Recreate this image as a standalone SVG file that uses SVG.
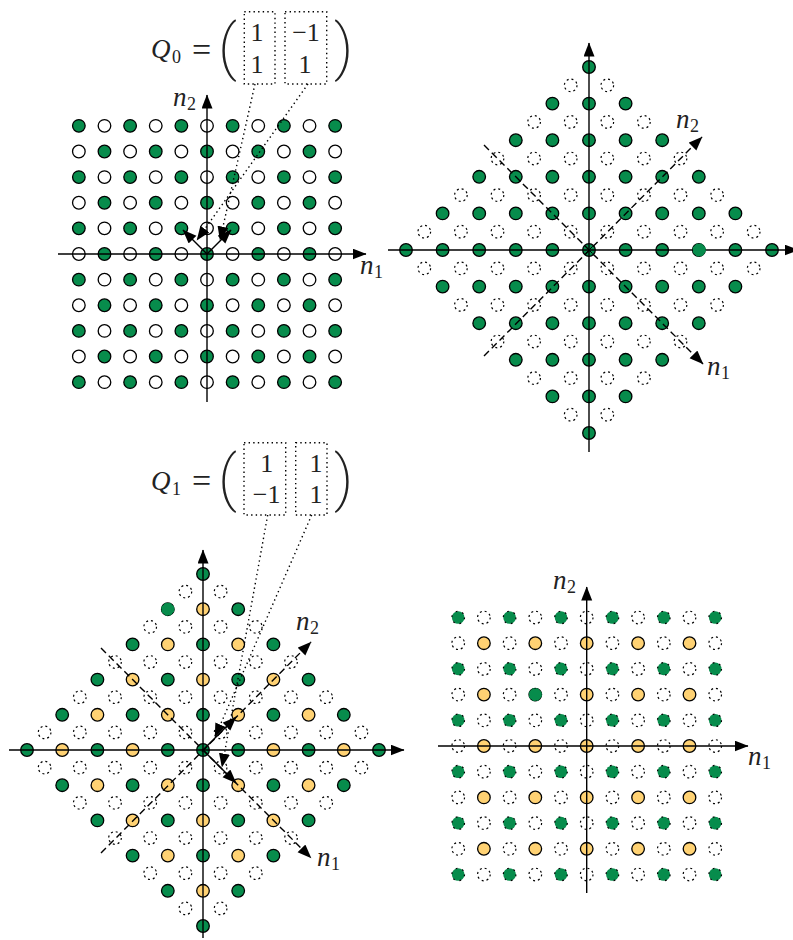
<svg xmlns="http://www.w3.org/2000/svg" width="793" height="940" viewBox="0 0 793 940">
<style>
text{font-family:"Liberation Serif","Times New Roman",serif;fill:#222}
.n{font-style:italic;font-size:27px}
.s{font-size:18px}
.m{font-size:26px;text-anchor:middle}
.e{font-size:34px}
.p{font-family:Roboto,"Liberation Sans",sans-serif;font-weight:200;font-size:62px}
.g{fill:#078c4c;stroke:#000;stroke-width:1.3}
.o{fill:#ffd273;stroke:#000;stroke-width:1.3}
.w{fill:#fff;stroke:#000;stroke-width:1.3}
.d{fill:none;stroke:#000;stroke-width:1.2;stroke-dasharray:2 2.95}
.h{fill:#078c4c;stroke:#000;stroke-width:1.2;stroke-dasharray:1.8 4.8}
.x{fill:#078c4c;stroke:#078c4c;stroke-width:1;stroke-dasharray:3 1.9}
.ax{fill:none;stroke:#000;stroke-width:1.4;marker-end:url(#arr)}
.da{stroke-dasharray:7 4}
.do{fill:none;stroke:#000;stroke-width:1.4;stroke-dasharray:1.4 3.2}
</style>
<defs>
<marker id="arr" markerUnits="userSpaceOnUse" markerWidth="15" markerHeight="12" refX="13.5" refY="5.5" orient="auto"><path d="M0,0L14,5.5L0,11Z" fill="#000"/></marker>
<circle id="cg" class="g" r="6.3"/><circle id="co" class="o" r="6.3"/><circle id="cw" class="w" r="6.3"/><circle id="cd" class="d" r="6.3"/><circle id="ch" class="h" r="6.3"/>

<g id="A1"><use href="#cg" x="-128.15"/><use href="#cw" x="-102.52"/><use href="#cg" x="-76.89"/><use href="#cw" x="-51.26"/><use href="#cg" x="-25.63"/><use href="#cw"/><use href="#cg" x="25.63"/><use href="#cw" x="51.26"/><use href="#cg" x="76.89"/><use href="#cw" x="102.52"/><use href="#cg" x="128.15"/></g>
<g id="A2"><use href="#cw" x="-128.15"/><use href="#cg" x="-102.52"/><use href="#cw" x="-76.89"/><use href="#cg" x="-51.26"/><use href="#cw" x="-25.63"/><use href="#cg"/><use href="#cw" x="25.63"/><use href="#cg" x="51.26"/><use href="#cw" x="76.89"/><use href="#cg" x="102.52"/><use href="#cw" x="128.15"/></g>

<g id="D1"><use href="#ch" x="-128.5"/><use href="#cd" x="-102.8"/><use href="#ch" x="-77.1"/><use href="#cd" x="-51.4"/><use href="#ch" x="-25.7"/><use href="#cd"/><use href="#ch" x="25.7"/><use href="#cd" x="51.4"/><use href="#ch" x="77.1"/><use href="#cd" x="102.8"/><use href="#ch" x="128.5"/></g>
<g id="D2"><use href="#cd" x="-128.5"/><use href="#co" x="-102.8"/><use href="#cd" x="-77.1"/><use href="#co" x="-51.4"/><use href="#cd" x="-25.7"/><use href="#co"/><use href="#cd" x="25.7"/><use href="#co" x="51.4"/><use href="#cd" x="77.1"/><use href="#co" x="102.8"/><use href="#cd" x="128.5"/></g>

<g id="b0"><use href="#cg"/></g>
<g id="b1"><use href="#b0"/><use href="#cg" x="-36.6"/><use href="#cg" x="36.6"/></g>
<g id="b2"><use href="#b1"/><use href="#cg" x="-73.2"/><use href="#cg" x="73.2"/></g>
<g id="b3"><use href="#b2"/><use href="#cg" x="-109.8"/><use href="#cg" x="109.8"/></g>
<g id="b4"><use href="#b3"/><use href="#cg" x="-146.4"/><use href="#cg" x="146.4"/></g>
<g id="b5"><use href="#b4"/><use href="#cg" x="-183"/><use href="#cg" x="183"/></g>
<g id="e1"><use href="#cd" x="-18.3"/><use href="#cd" x="18.3"/></g>
<g id="e2"><use href="#e1"/><use href="#cd" x="-54.9"/><use href="#cd" x="54.9"/></g>
<g id="e3"><use href="#e2"/><use href="#cd" x="-91.5"/><use href="#cd" x="91.5"/></g>
<g id="e4"><use href="#e3"/><use href="#cd" x="-128.1"/><use href="#cd" x="128.1"/></g>
<g id="e5"><use href="#e4"/><use href="#cd" x="-164.7"/><use href="#cd" x="164.7"/></g>

<g id="f1"><use href="#cd" x="-17.6"/><use href="#cd" x="17.6"/></g>
<g id="f2"><use href="#f1"/><use href="#cd" x="-52.8"/><use href="#cd" x="52.8"/></g>
<g id="f3"><use href="#f2"/><use href="#cd" x="-88"/><use href="#cd" x="88"/></g>
<g id="f4"><use href="#f3"/><use href="#cd" x="-123.2"/><use href="#cd" x="123.2"/></g>
<g id="f5"><use href="#f4"/><use href="#cd" x="-158.4"/><use href="#cd" x="158.4"/></g>
<g id="g1"><use href="#cg" x="-35.2"/><use href="#cg" x="35.2"/></g>
<g id="g2"><use href="#cg" x="-70.4"/><use href="#cg" x="70.4"/></g>
<g id="g3"><use href="#cg" x="-105.6"/><use href="#cg" x="105.6"/></g>
<g id="g4"><use href="#cg" x="-140.8"/><use href="#cg" x="140.8"/></g>
<g id="g5"><use href="#cg" x="-176"/><use href="#cg" x="176"/></g>
<g id="o1"><use href="#co" x="-35.2"/><use href="#co" x="35.2"/></g>
<g id="o2"><use href="#co" x="-70.4"/><use href="#co" x="70.4"/></g>
<g id="o3"><use href="#co" x="-105.6"/><use href="#co" x="105.6"/></g>
<g id="o4"><use href="#co" x="-140.8"/><use href="#co" x="140.8"/></g>
<g id="c0"><use href="#cg"/><use href="#g1"/><use href="#o2"/><use href="#g3"/><use href="#o4"/><use href="#g5"/></g>
<g id="c1"><use href="#cg"/><use href="#o1"/><use href="#g2"/><use href="#o3"/><use href="#g4"/></g>
<g id="c2"><use href="#co"/><use href="#g1"/><use href="#o2"/><use href="#g3"/></g>
<g id="c3"><use href="#cg"/><use href="#o1"/><use href="#g2"/></g>
<g id="c4"><use href="#co"/><use href="#g1"/></g>
</defs>

<g id="panel-a-points">
<use href="#A1" x="207" y="125.85"/><use href="#A2" x="207" y="151.48"/><use href="#A1" x="207" y="177.11"/><use href="#A2" x="207" y="202.74"/><use href="#A1" x="207" y="228.37"/><use href="#A2" x="207" y="254"/><use href="#A1" x="207" y="279.63"/><use href="#A2" x="207" y="305.26"/><use href="#A1" x="207" y="330.89"/><use href="#A2" x="207" y="356.52"/><use href="#A1" x="207" y="382.15"/>
</g>
<g id="panel-b-points">
<use href="#b0" x="589" y="67"/><use href="#b1" x="589" y="103.6"/><use href="#b2" x="589" y="140.2"/><use href="#b3" x="589" y="176.8"/><use href="#b4" x="589" y="213.4"/><use href="#b5" x="589" y="250"/><use href="#b4" x="589" y="286.6"/><use href="#b3" x="589" y="323.2"/><use href="#b2" x="589" y="359.8"/><use href="#b1" x="589" y="396.4"/><use href="#b0" x="589" y="433"/>
<use href="#e1" x="589" y="85.3"/><use href="#e2" x="589" y="121.9"/><use href="#e3" x="589" y="158.5"/><use href="#e4" x="589" y="195.1"/><use href="#e5" x="589" y="231.7"/><use href="#e5" x="589" y="268.3"/><use href="#e4" x="589" y="304.9"/><use href="#e3" x="589" y="341.5"/><use href="#e2" x="589" y="378.1"/><use href="#e1" x="589" y="414.7"/>
</g>
<g id="panel-c-points">
<use href="#cg" x="203" y="574"/><use href="#c4" x="203" y="609.2"/><use href="#c3" x="203" y="644.4"/><use href="#c2" x="203" y="679.6"/><use href="#c1" x="203" y="714.8"/><use href="#c0" x="203" y="750"/><use href="#c1" x="203" y="785.2"/><use href="#c2" x="203" y="820.4"/><use href="#c3" x="203" y="855.6"/><use href="#c4" x="203" y="890.8"/><use href="#cg" x="203" y="926"/>
<use href="#f1" x="203" y="591.6"/><use href="#f2" x="203" y="626.8"/><use href="#f3" x="203" y="662"/><use href="#f4" x="203" y="697.2"/><use href="#f5" x="203" y="732.4"/><use href="#f5" x="203" y="767.6"/><use href="#f4" x="203" y="802.8"/><use href="#f3" x="203" y="838"/><use href="#f2" x="203" y="873.2"/><use href="#f1" x="203" y="908.4"/>
</g>
<g id="panel-d-points">
<use href="#D1" x="586.7" y="617.5"/><use href="#D2" x="586.7" y="643.2"/><use href="#D1" x="586.7" y="668.9"/><use href="#D2" x="586.7" y="694.6"/><use href="#D1" x="586.7" y="720.3"/><use href="#D2" x="586.7" y="746"/><use href="#D1" x="586.7" y="771.7"/><use href="#D2" x="586.7" y="797.4"/><use href="#D1" x="586.7" y="823.1"/><use href="#D2" x="586.7" y="848.8"/><use href="#D1" x="586.7" y="874.5"/>
</g>

<g id="connectors">
<path class="ax" d="M58,254H366"/><path class="ax" d="M207,402V95"/>
<path class="ax" d="M207,254L183,230"/><path class="ax" d="M207,254L231,230"/>
<path class="do" d="M255,84L220,240" marker-end="url(#arr)"/><path class="do" d="M308,84L197,240" marker-end="url(#arr)"/>

<path class="ax" d="M388,250H798"/><path class="ax" d="M589,452V43"/>
<path class="ax da" d="M484,356L702,137"/><path class="ax da" d="M484,145L703,364"/>
<path d="M585.5,246.5L592.5,253.5M592.5,246.5L585.5,253.5" stroke="#000" fill="none"/>

<path class="ax" d="M9,750H404"/><path class="ax" d="M203,938V550"/>
<path class="ax da" d="M101,853L311,642"/><path class="ax da" d="M101,648L311,858"/>
<path class="ax" d="M203,750L236,717"/><path class="ax" d="M203,750L236,783"/>
<path class="do" d="M267.7,515L222,767" marker-end="url(#arr)"/><path class="do" d="M311.7,515L215,737" marker-end="url(#arr)"/>

<path class="ax" d="M438,746H748"/><path class="ax" d="M586.7,893V587"/>
</g>

<g id="special-points">
<circle class="x" cx="699.2" cy="250" r="6.2"/>
<circle class="x" cx="167.8" cy="609.2" r="6.2"/>
<circle class="x" cx="535.3" cy="694.6" r="6.2"/>
</g>

<g id="matrix-q0">
<text class="n" x="151" y="58">Q</text><text class="s" x="172" y="63">0</text>
<text class="e" x="192" y="61">=</text>
<text class="p" x="218" y="68">(</text>
<text class="p" x="334" y="68">)</text>
<rect class="do" x="244.3" y="11.7" width="30.7" height="72.3"/>
<rect class="do" x="285" y="11.7" width="41.7" height="72.3"/>
<text class="m" x="257" y="41">1</text><text class="m" x="257" y="72.7">1</text>
<text class="m" x="306" y="41">−1</text><text class="m" x="305" y="72.7">1</text>
</g>
<g id="matrix-q1">
<text class="n" x="151" y="490">Q</text><text class="s" x="172" y="495">1</text>
<text class="e" x="192" y="492">=</text>
<text class="p" x="218" y="499">(</text>
<text class="p" x="334" y="499">)</text>
<rect class="do" x="244" y="442.7" width="41.7" height="72.3"/>
<rect class="do" x="295.7" y="442.7" width="31.3" height="72.3"/>
<text class="m" x="266.7" y="471.7">1</text><text class="m" x="266.7" y="502.7">−1</text>
<text class="m" x="316" y="471.7">1</text><text class="m" x="316" y="502.7">1</text>
</g>
<g id="axis-labels">
<text class="n" x="173" y="106">n</text><text class="s" x="187" y="110">2</text>
<text class="n" x="360" y="274">n</text><text class="s" x="374" y="278">1</text>
<text class="n" x="676" y="128">n</text><text class="s" x="690" y="132">2</text>
<text class="n" x="707" y="375">n</text><text class="s" x="721" y="379">1</text>
<text class="n" x="296" y="630">n</text><text class="s" x="310" y="634">2</text>
<text class="n" x="317" y="866">n</text><text class="s" x="331" y="870">1</text>
<text class="n" x="553" y="589">n</text><text class="s" x="567" y="593">2</text>
<text class="n" x="748" y="765">n</text><text class="s" x="762" y="769">1</text>
</g>
</svg>
